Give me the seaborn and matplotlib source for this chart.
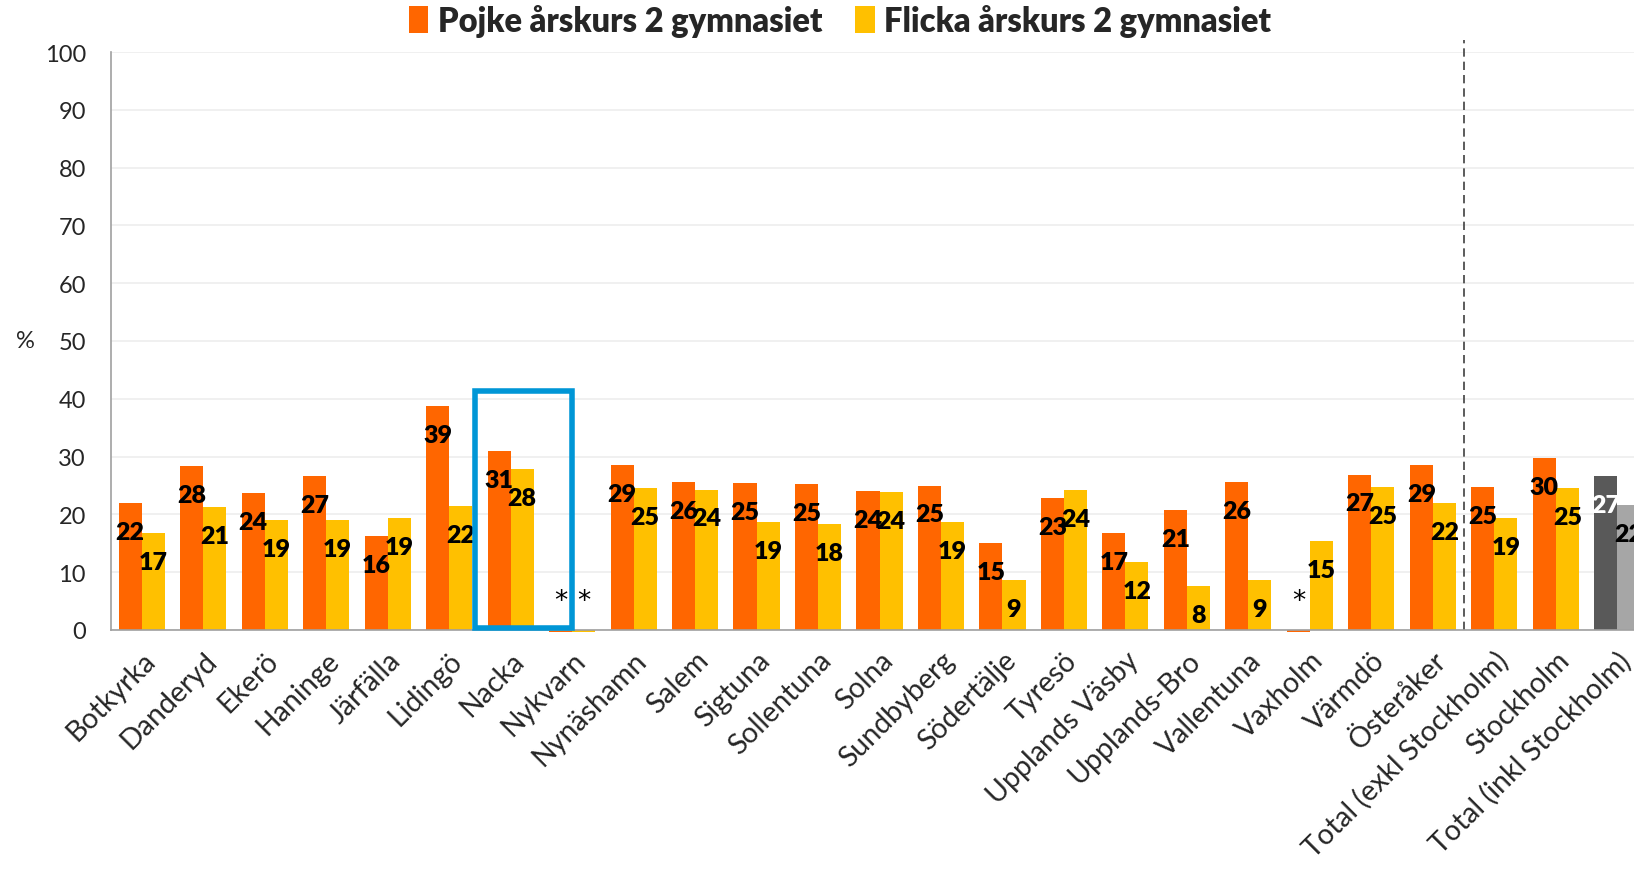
import numpy as np
import pandas as pd
import seaborn as sns
import matplotlib.pyplot as plt
from matplotlib.patches import Rectangle

# Data
kommuner = ["Botkyrka", "Danderyd", "Ekerö", "Haninge", "Järfälla", "Lidingö",
            "Nacka", "Nykvarn", "Nynäshamn", "Salem", "Sigtuna", "Sollentuna",
            "Solna", "Sundbyberg", "Södertälje", "Tyresö", "Upplands Väsby",
            "Upplands-Bro", "Vallentuna", "Vaxholm", "Värmdö", "Österåker",
            "Total (exkl Stockholm)", "Stockholm", "Total (inkl Stockholm)"]
pojke = [22.0, 28.3, 23.7, 26.7, 16.3, 38.8, 31.0, -0.3, 28.6, 25.6, 25.4, 25.2,
         24.1, 25.0, 15.0, 22.8, 16.8, 20.8, 25.6, -0.3, 26.9, 28.6,
         24.8, 29.7, 26.7]
flicka = [16.7, 21.3, 19.0, 19.0, 19.3, 21.5, 27.8, -0.3, 24.6, 24.3, 18.7, 18.3,
          23.8, 18.6, 8.6, 24.2, 11.7, 7.6, 8.6, 15.4, 24.7, 22.0,
          19.3, 24.6, 21.6]
# too few answers -> shown as "*"
pojke_star = ["Nykvarn", "Vaxholm"]
flicka_star = ["Nykvarn"]
series = ["Pojke årskurs 2 gymnasiet", "Flicka årskurs 2 gymnasiet"]

df = pd.DataFrame({
    "kommun": kommuner * 2,
    "grupp": [series[0]] * len(kommuner) + [series[1]] * len(kommuner),
    "andel": pojke + flicka,
})

sns.set_style("white")
plt.rcParams["font.family"] = ["Lato", "DejaVu Sans"]

fig = plt.figure(figsize=(16.34, 8.79), dpi=100)
ax = fig.add_axes([111 / 1634, 1 - 631 / 879, 1537 / 1634, 578 / 879])

sns.barplot(data=df, x="kommun", y="andel", hue="grupp", order=kommuner,
            hue_order=series, palette=["#ff6600", "#ffc000"], width=0.75,
            saturation=1, ax=ax, legend=True, errorbar=None)

# last category drawn in grey
ax.containers[0][len(kommuner) - 1].set_facecolor("#595959")
ax.containers[1][len(kommuner) - 1].set_facecolor("#a6a6a6")
for p in ax.patches:
    p.set_clip_on(False)
    p.set_linewidth(0)

ax.set_ylim(0, 100)
ax.set_xlim(-0.5, len(kommuner) - 0.5)
ax.set_yticks(np.arange(0, 101, 10))
ax.yaxis.grid(True, color="#eeeeee", linewidth=1.2)
ax.set_axisbelow(True)

# value labels
for ci, (vals, stars) in enumerate([(pojke, pojke_star), (flicka, flicka_star)]):
    for i, bar in enumerate(ax.containers[ci]):
        x = bar.get_x() + bar.get_width() / 2
        if kommuner[i] in stars:
            ax.text(x, 5, "*", ha="center", va="center", fontsize=19,
                    color="black", fontfamily="DejaVu Sans")
            continue
        col = "white" if (ci == 0 and i == len(kommuner) - 1) else "black"
        ax.text(x, vals[i] - 5, f"{round(vals[i])}", ha="center", va="center",
                fontsize=18, fontweight="heavy", color=col)

# axes styling
for s in ["top", "right"]:
    ax.spines[s].set_visible(False)
for s in ["left", "bottom"]:
    ax.spines[s].set_color("#a0a0a0")
    ax.spines[s].set_linewidth(1.2)
ax.set_xticks(np.arange(len(kommuner)))
ax.set_xticks(np.arange(-0.5, len(kommuner), 1), minor=True)
ax.tick_params(axis="x", which="major", length=0, pad=12)
ax.tick_params(axis="x", which="minor", length=8, color="#a0a0a0", width=1.2)
ax.tick_params(axis="y", length=6, color="#a0a0a0", width=1.2, labelsize=17, pad=12)
ax.set_xticklabels(kommuner, rotation=45, ha="right", rotation_mode="anchor",
                   fontsize=20.5)
ax.set_xlabel("")
ax.set_ylabel("%", rotation=0, fontsize=17, labelpad=14, va="center")

# separator before totals
ax.plot([21.5, 21.5], [0, 102], ls=(0, (5, 3)), color="#404040", lw=1.2,
        clip_on=False)

# highlight box around Nacka
ax.add_patch(Rectangle((5.42, 0.4), 1.58, 41.0, fill=False, edgecolor="#0096d6",
                       linewidth=4, clip_on=False, zorder=5))

leg = ax.legend(loc="center", bbox_to_anchor=(840 / 1634, 1 - 21 / 879),
                bbox_transform=fig.transFigure, ncol=2, frameon=False,
                handlelength=0.6, handleheight=0.9, handletextpad=0.3,
                columnspacing=1.0, prop={"size": 23.5, "weight": "heavy"})

fig.savefig("out.png", dpi=100)
